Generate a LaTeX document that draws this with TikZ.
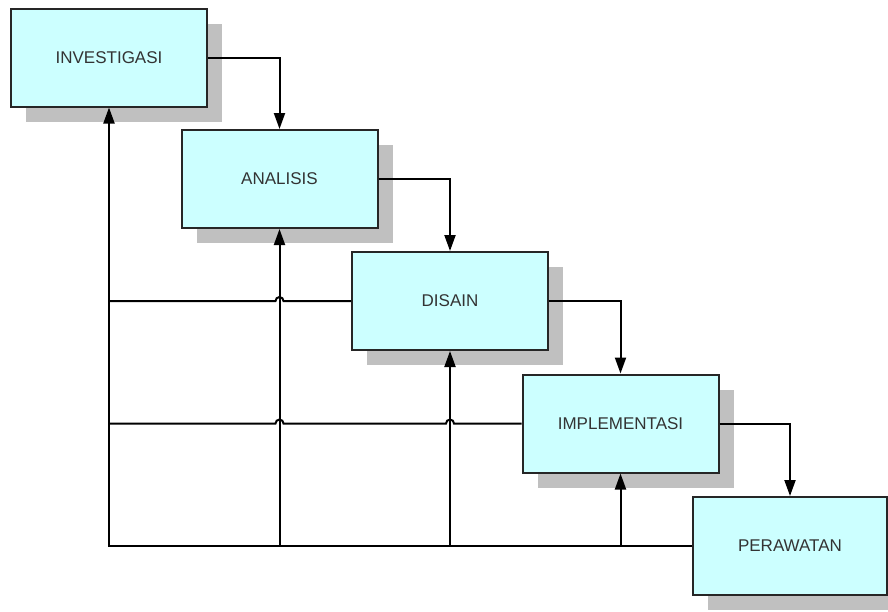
\documentclass[tikz,border=0pt]{standalone}
\usepackage{fontspec}
\setmainfont{Liberation Sans}
\usetikzlibrary{arrows.meta,shadows,calc}
\definecolor{boxfill}{HTML}{CCFFFF}
\definecolor{shadowgray}{HTML}{C0C0C0}
\definecolor{textgray}{HTML}{333333}
\tikzset{
  stagebox/.style={draw=black!85, line width=2pt, fill=boxfill,
    minimum width=196pt, minimum height=98pt, inner sep=0pt,
    text=textgray, font=\fontsize{17}{20}\selectfont,
    drop shadow={shadow xshift=15pt, shadow yshift=-15pt, fill=shadowgray, opacity=1}},
  conn/.style={draw=black, line width=2pt},
  arr/.style={conn, -{Triangle[width=11pt,length=16pt]}}
}
\begin{document}
\begin{tikzpicture}[x=1pt,y=-1pt]
\useasboundingbox (0,0) rectangle (888,611);
\node[stagebox] (inv) at (109,57.5) {INVESTIGASI};
\node[stagebox] (ana) at (279.5,179) {ANALISIS};
\node[stagebox] (dis) at (450,301) {DISAIN};
\node[stagebox] (imp) at (620.5,423.5) {IMPLEMENTASI};
\node[stagebox, minimum width=194pt] (per) at (790,546) {PERAWATAN};
% forward flow
\draw[arr] (inv.east) -| (ana.north);
\draw[arr] (ana.east) -| (dis.north);
\draw[arr] (dis.east) -| (imp.north);
\draw[arr] (imp.east) -| (per.north);
% feedback
\draw[arr] (per.west) -| (inv.south);
\draw[arr] (per.west -| ana.south) -- (ana.south);
\draw[arr] (per.west -| dis.south) -- (dis.south);
\draw[arr] (per.west -| imp.south) -- (imp.south);
\draw[conn] (dis.west) -- ([xshift=4pt]dis.west -| ana.south)
  arc[start angle=0, end angle=180, radius=4pt] -- (dis.west -| inv.south);
\draw[conn] (imp.west) -- ([xshift=4pt]imp.west -| dis.south)
  arc[start angle=0, end angle=180, radius=4pt]
  -- ([xshift=4pt]imp.west -| ana.south)
  arc[start angle=0, end angle=180, radius=4pt] -- (imp.west -| inv.south);
\end{tikzpicture}
\end{document}
